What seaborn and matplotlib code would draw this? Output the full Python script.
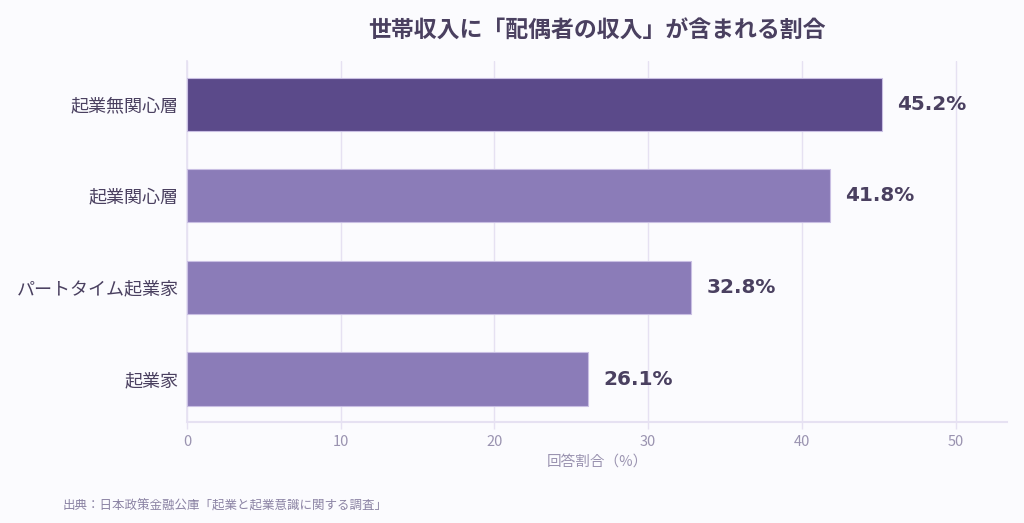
import pandas as pd
import matplotlib.pyplot as plt
import seaborn as sns

# --- データ ---
categories = ['起業無関心層', '起業関心層', 'パートタイム起業家', '起業家']
values = [45.2, 41.8, 32.8, 26.1]
highlight = '起業無関心層'

TITLE = '世帯収入に「配偶者の収入」が含まれる割合'
XLABEL = '回答割合（%）'
SOURCE = '出典：日本政策金融公庫「起業と起業意識に関する調査」'

BG = '#fbfbfe'
DARK = '#4a4060'
GRID = '#e6e1f2'
MAIN = '#5b4a8a'
SUB = '#8b7cb8'


def draw_chart():
    sns.set_theme(style='white')
    plt.rcParams['font.family'] = ['Noto Sans CJK JP', 'DejaVu Sans']

    df = pd.DataFrame({'category': categories, 'value': values})
    palette = {c: (MAIN if c == highlight else SUB) for c in categories}

    fig = plt.figure(figsize=(10.24, 5.23), dpi=100, facecolor=BG)
    ax = fig.add_axes([0.1826, 0.193, 0.8008, 0.69])
    ax.set_facecolor(BG)

    sns.barplot(data=df, x='value', y='category', hue='category', palette=palette,
                order=categories, width=0.58, edgecolor='#c9bfe3', linewidth=0.8,
                saturation=1, legend=False, ax=ax, zorder=3)

    # 数値ラベル
    for i, v in enumerate(values):
        ax.text(v + 1.0, i, f'{v}%', va='center', ha='left', fontsize=14.4,
                fontweight='bold', color=DARK, family=['DejaVu Sans', 'Noto Sans CJK JP'])

    ax.set_xlim(0, max(values) * 1.18)
    ax.set_ylim(3.47, -0.47)
    ax.set_xticks([0, 10, 20, 30, 40, 50])
    ax.xaxis.grid(True, color=GRID, linewidth=1, zorder=0)
    ax.yaxis.grid(False)

    for side in ['top', 'right']:
        ax.spines[side].set_visible(False)
    ax.spines['left'].set_color(GRID)
    ax.spines['bottom'].set_color(GRID)
    ax.spines['bottom'].set_linewidth(1.5)

    ax.tick_params(axis='x', colors='#9a93b0', labelsize=10.5, length=5, width=1,
                   bottom=True, pad=4)
    ax.tick_params(axis='x', color=GRID)
    ax.tick_params(axis='y', labelsize=13, labelcolor=DARK, length=0, pad=6)

    ax.set_xlabel(XLABEL, fontsize=10.5, color='#9a93b0', labelpad=4)
    ax.set_ylabel('')

    ax.set_title(TITLE, fontsize=16.5, fontweight='bold', color=DARK, pad=17)

    fig.text(0.061, 0.026, SOURCE, fontsize=9, color='#8a82a3')

    fig.savefig('out.png', dpi=100, facecolor=BG)
    plt.close(fig)


if __name__ == '__main__':
    draw_chart()
